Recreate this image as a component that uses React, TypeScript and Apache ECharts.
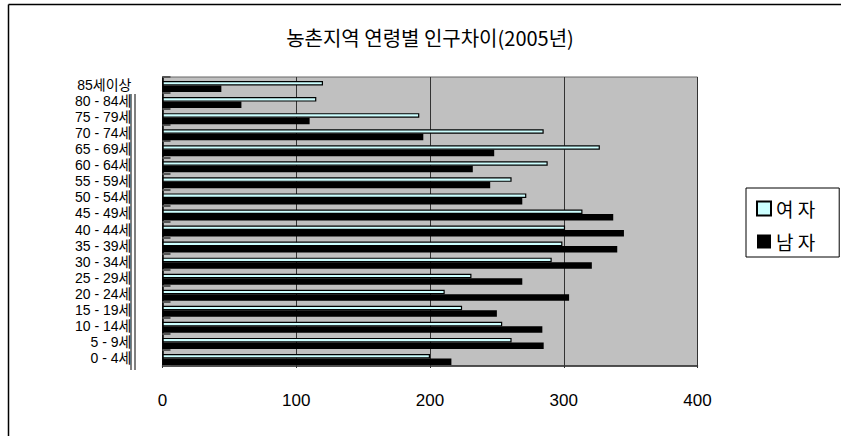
import React, { useEffect, useRef } from "react";
import * as echarts from "echarts";

const TITLE = "농촌지역 연령별 인구차이(2005년)";
const categories = [
  "0 - 4세", "5 - 9세", "10 - 14세", "15 - 19세", "20 - 24세", "25 - 29세",
  "30 - 34세", "35 - 39세", "40 - 44세", "45 - 49세", "50 - 54세", "55 - 59세",
  "60 - 64세", "65 - 69세", "70 - 74세", "75 - 79세", "80 - 84세", "85세이상",
];
const femaleName = "여 자";
const maleName = "남 자";
const female = [200, 261, 254, 224, 211, 231, 291, 299, 301, 314, 272, 261, 288, 327, 285, 192, 115, 120];
const male = [216, 285, 284, 250, 304, 269, 321, 340, 345, 337, 269, 245, 232, 248, 195, 110, 59, 44];
const xTicks = { min: 0, max: 400, interval: 100 };

export default function App() {
  const ref = useRef<HTMLDivElement>(null);
  useEffect(() => {
    if (!ref.current) return;
    const chart = echarts.init(ref.current, null, { renderer: "svg" });
    const kr = "'Noto Sans CJK KR', 'Noto Sans', sans-serif";
    const lab = "'Liberation Sans', 'Noto Sans CJK KR', sans-serif";
    chart.setOption({
      animation: false,
      backgroundColor: "#ffffff",
      title: {
        text: TITLE,
        left: 425,
        top: 22,
        textAlign: "center",
        textStyle: { fontFamily: kr, fontSize: 20, fontWeight: "normal", color: "#000" },
      },
      legend: {
        orient: "vertical",
        left: 746,
        top: 188,
        data: [femaleName, maleName],
        icon: "rect",
        borderColor: "#000",
        borderWidth: 1,
        padding: [11, 24, 6, 10],
        itemWidth: 14,
        itemHeight: 14,
        itemGap: 14,
        textStyle: { fontFamily: kr, fontSize: 19, color: "#000" },
      },
      grid: {
        left: 162.5,
        right: 143.5,
        top: 77,
        bottom: 70,
        show: true,
        backgroundColor: "#C0C0C0",
        borderColor: "#666",
        borderWidth: 1,
        containLabel: false,
      },
      xAxis: {
        type: "value",
        min: xTicks.min,
        max: xTicks.max,
        interval: xTicks.interval,
        axisLine: { show: true, lineStyle: { color: "#333", width: 1.5 } },
        axisTick: { show: true, length: 2, lineStyle: { color: "#333" } },
        splitLine: { show: true, lineStyle: { color: "#333", width: 1 } },
        axisLabel: { fontFamily: "'Liberation Sans', Arial, sans-serif", fontSize: 17, color: "#000", margin: 26 },
      },
      yAxis: {
        type: "category",
        data: categories,
        axisLine: { show: true, lineStyle: { color: "#000", width: 1.5 } },
        axisTick: { show: true, inside: true, length: 8, lineStyle: { color: "#555", width: 2 } },
        axisLabel: { interval: 0, fontFamily: lab, fontSize: 14, color: "#000", margin: 31, lineHeight: 15 },
        splitLine: { show: false },
      },
      series: [
        {
          name: "_spacer",
          type: "bar",
          barWidth: 3,
          barGap: "0%",
          data: categories.map(() => "-"),
          itemStyle: { color: "transparent" },
          silent: true,
        },
        {
          name: femaleName,
          type: "bar",
          barWidth: 4.5,
          barGap: "0%",
          data: female,
          itemStyle: { color: "#CCFFFF", borderColor: "#000", borderWidth: 1.2 },
        },
        {
          name: maleName,
          type: "bar",
          barWidth: 6.5,
          barGap: "0%",
          data: male,
          itemStyle: { color: "#000" },
        },
      ],
      graphic: [
        { type: "line", shape: { x1: 8.5, y1: 4.5, x2: 841, y2: 4.5 }, style: { stroke: "#000", lineWidth: 1.5 } },
        { type: "line", shape: { x1: 8.5, y1: 4.5, x2: 8.5, y2: 436 }, style: { stroke: "#000", lineWidth: 1.5 } },
        { type: "line", shape: { x1: 131, y1: 94, x2: 131, y2: 370 }, style: { stroke: "#000", lineWidth: 1 } },
        { type: "line", shape: { x1: 135, y1: 94, x2: 135, y2: 370 }, style: { stroke: "#000", lineWidth: 1 } },
      ],
    });
    return () => chart.dispose();
  }, []);
  return <div ref={ref} style={{ position: "fixed", left: 0, top: 0, width: 841, height: 436 }} />;
}
